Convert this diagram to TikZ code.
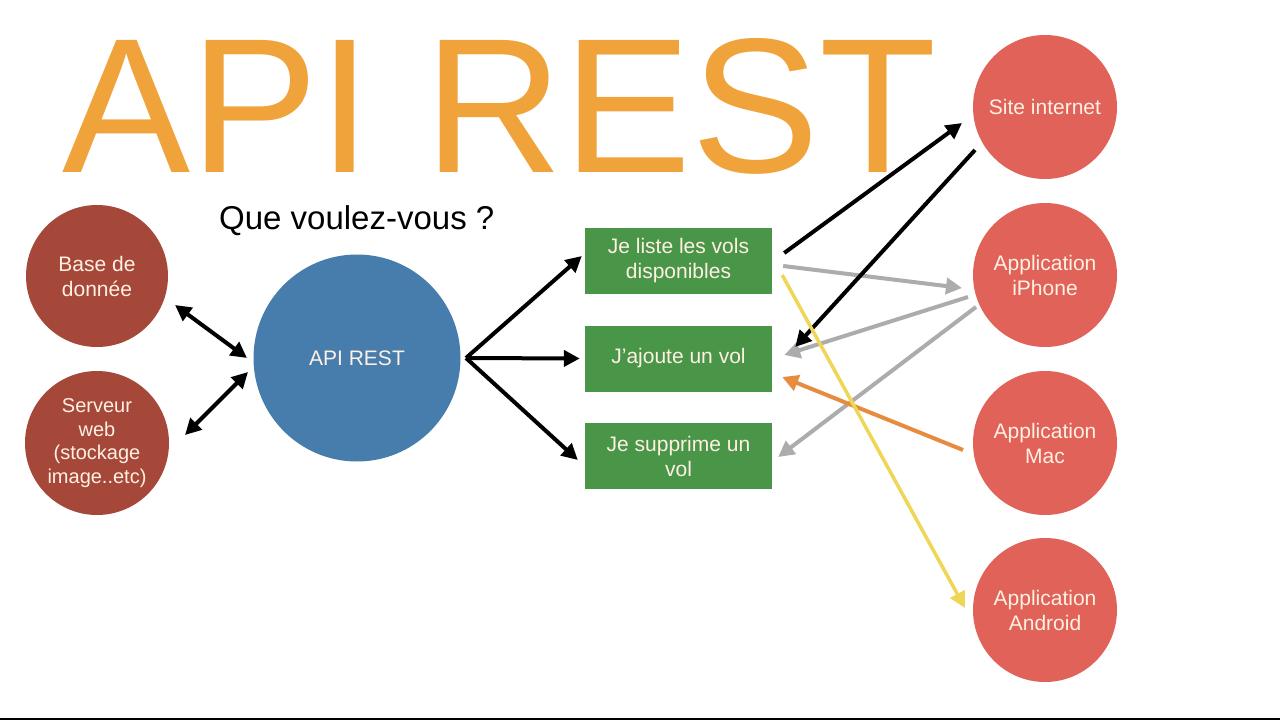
\documentclass[tikz,border=0pt]{standalone}
\usepackage{fontspec}
\setmainfont{Liberation Sans}
\usetikzlibrary{arrows.meta,calc}
\definecolor{titleor}{RGB}{240,163,58}
\definecolor{brownc}{RGB}{166,72,57}
\definecolor{bluec}{RGB}{70,125,172}
\definecolor{greenb}{RGB}{74,150,72}
\definecolor{redc}{RGB}{224,98,89}
\definecolor{cream}{RGB}{255,240,228}
\definecolor{grayar}{RGB}{172,172,172}
\definecolor{orangear}{RGB}{230,140,62}
\definecolor{yellowar}{RGB}{240,214,86}
\begin{document}
\begin{tikzpicture}[x=1pt,y=-1pt,
  lbl/.style={text=cream,font=\fontsize{21}{25}\selectfont,align=center,inner sep=0pt},
  circ/.style={circle,lbl,minimum size=#1},
  boxn/.style={rectangle,fill=greenb,lbl,minimum width=187pt,minimum height=66pt},
  tip/.style={-{Triangle[length=16pt,width=16pt]}},
  biarrow/.style={{Triangle[length=16pt,width=16pt]}-{Triangle[length=16pt,width=16pt]},line width=4pt,black},
  blk/.style={tip,line width=4pt,black},
  gry/.style={tip,line width=4pt,grayar},
  org/.style={tip,line width=4pt,orangear},
  ylw/.style={tip,line width=3.5pt,yellowar}]
\useasboundingbox (0,0) rectangle (1280,720);
\fill[white] (0,0) rectangle (1280,720);
\fill[black] (0,717.5) rectangle (1280,720);

\node[anchor=base west,inner sep=0pt,text depth=0pt,text=titleor,font=\fontsize{192}{192}\selectfont] (title) at (62,172) {API REST};
\node[anchor=base west,inner sep=0pt,text=black,font=\fontsize{33}{33}\selectfont] (question) at (219,229) {Que voulez-vous ?};

\node[circ=142pt,fill=brownc] (db) at (97,276) {Base de\\donnée};
\node[circ=144pt,fill=brownc,font=\fontsize{20}{23.5}\selectfont] (srv) at (97,443) {Serveur\\web\\(stockage\\image..etc)};
\node[circ=207pt,fill=bluec] (api) at (357,358) {API REST};

\node[boxn] (b1) at (678.5,261) {Je liste les vols\\disponibles};
\node[boxn] (b2) at (678.5,358.5) {J’ajoute un vol};
\node[boxn] (b3) at (678.5,456) {Je supprime un\\vol};

\node[circ=144pt,fill=redc] (site) at (1045,107) {Site internet};
\node[circ=144pt,fill=redc] (iphone) at (1045,275) {Application\\iPhone};
\node[circ=144pt,fill=redc] (mac) at (1045,443) {Application\\Mac};
\node[circ=144pt,fill=redc] (android) at (1045,610) {Application\\Android};

\draw[biarrow] ($(db)+(78,29)$) -- ($(api)+(-110,0)$);
\draw[biarrow] ($(srv)+(88,-8)$) -- ($(api)+(-109,14)$);

\draw[blk] ($(api)+(109,0)$) -- ($(b1.west)+(-3,-5)$);
\draw[blk] ($(api)+(109,0)$) -- ($(b2.west)+(-5,0)$);
\draw[blk] ($(api)+(109,0)$) -- ($(b3.west)+(-7,4)$);

\draw[gry] ($(b1.east)+(11,5)$) -- ($(iphone)+(-83,13)$);
\draw[gry] ($(iphone)+(-77,22)$) -- ($(b2.east)+(12,-3.5)$);
\draw[gry] ($(iphone)+(-69,32)$) -- ($(b3.east)+(6,1)$);
\draw[blk] ($(b1.east)+(12,-8)$) -- ($(site)+(-83,16)$);
\draw[blk] ($(site)+(-70,43)$) -- ($(b2.east)+(23,-11.5)$);
\draw[org] ($(mac)+(-82,7)$) -- ($(b2.east)+(10,18.5)$);
\draw[ylw] ($(b1.east)+(10,14)$) -- ($(android)+(-80,-2)$);
\end{tikzpicture}
\end{document}
